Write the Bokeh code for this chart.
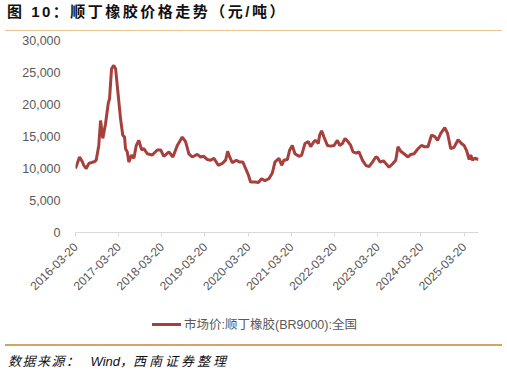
import math
from datetime import datetime
import pandas as pd
from bokeh.plotting import figure
from bokeh.models import (Div, Range1d, FixedTicker, NumeralTickFormatter,
                          DatetimeTickFormatter)
from bokeh.layouts import column
from bokeh.embed import file_html
from bokeh.resources import INLINE

# ---------------- data ----------------
dates = [
    "2016-03-20", "2016-04-23", "2016-05-16", "2016-05-29", "2016-06-19", "2016-07-11",
    "2016-08-30", "2016-09-11", "2016-10-03", "2016-10-18", "2016-11-06", "2016-11-29",
    "2016-12-22", "2017-01-02", "2017-01-19", "2017-02-07", "2017-02-22", "2017-03-16",
    "2017-04-05", "2017-04-24", "2017-05-09", "2017-05-17", "2017-06-01", "2017-06-14",
    "2017-07-07", "2017-07-27", "2017-08-16", "2017-09-07", "2017-09-30", "2017-10-19",
    "2017-11-17", "2017-12-29", "2018-02-10", "2018-03-10", "2018-04-06", "2018-05-19",
    "2018-06-22", "2018-07-29", "2018-09-09", "2018-10-07", "2018-11-04", "2018-12-03",
    "2019-01-14", "2019-02-11", "2019-03-11", "2019-04-09", "2019-05-07", "2019-06-04",
    "2019-07-11", "2019-08-14", "2019-09-11", "2019-09-28", "2019-10-15", "2019-11-06",
    "2019-12-10", "2020-01-07", "2020-02-04", "2020-02-27", "2020-03-21", "2020-04-09",
    "2020-05-16", "2020-06-14", "2020-07-11", "2020-08-08", "2020-09-11", "2020-10-10",
    "2020-11-01", "2020-12-05", "2020-12-28", "2021-01-16", "2021-02-14", "2021-03-06",
    "2021-03-28", "2021-04-19", "2021-05-23", "2021-06-15", "2021-07-13", "2021-08-11",
    "2021-08-30", "2021-09-27", "2021-10-12", "2021-11-03", "2021-11-14", "2021-12-01",
    "2021-12-21", "2022-01-19", "2022-02-16", "2022-03-16", "2022-04-13", "2022-05-03",
    "2022-05-26", "2022-06-17", "2022-07-07", "2022-08-04", "2022-08-23", "2022-09-21",
    "2022-10-13", "2022-11-11", "2022-12-09", "2023-01-06", "2023-02-04", "2023-03-04",
    "2023-03-18", "2023-04-09", "2023-05-08", "2023-05-27", "2023-06-24", "2023-07-23",
    "2023-08-20", "2023-09-08", "2023-10-01", "2023-10-29", "2023-12-02", "2023-12-25",
    "2024-01-22", "2024-02-20", "2024-03-24", "2024-04-21", "2024-05-19", "2024-06-17",
    "2024-07-15", "2024-08-07", "2024-09-04", "2024-10-08", "2024-10-31", "2024-11-27",
    "2024-12-25", "2025-01-28", "2025-02-26", "2025-03-20", "2025-04-12", "2025-05-02",
    "2025-05-16", "2025-05-30", "2025-06-19", "2025-07-20",
]
prices = [
    10000, 11800, 11100, 10500, 10000, 10800,
    11100, 11300, 13600, 17500, 14700, 17000,
    20200, 20900, 25600, 26100, 25600, 21500,
    17800, 15200, 14900, 13100, 12600, 11000,
    12100, 11600, 13600, 14400, 12900, 13100,
    12300, 12100, 12900, 12900, 11900, 12600,
    11800, 13600, 14900, 14200, 12300, 11800,
    12200, 11800, 11900, 11400, 11300, 11600,
    10500, 10800, 11300, 12700, 11800, 10900,
    11300, 11000, 11000, 10000, 9000, 7900,
    7900, 7800, 8400, 8100, 8400, 9300,
    11000, 11600, 10500, 11300, 11400, 12900,
    13600, 12300, 11900, 12100, 13900, 14200,
    13400, 14200, 14400, 13900, 15200, 15900,
    14900, 13600, 13500, 13600, 14400, 13600,
    13900, 14700, 14300, 13600, 12600, 12400,
    12600, 11300, 10500, 10300, 11000, 11800,
    11700, 11000, 11200, 10800, 10200, 10700,
    11300, 13400, 12700, 12300, 11800, 12200,
    12300, 13000, 13600, 13400, 13400, 15200,
    15000, 14400, 15500, 16400, 15500, 13100,
    13300, 14500, 13900, 13600, 12700, 11400,
    12100, 11300, 11600, 11400,
]
x_tick_dates = ["2016-03-20", "2017-03-20", "2018-03-20", "2019-03-20", "2020-03-20",
                "2021-03-20", "2022-03-20", "2023-03-20", "2024-03-20", "2025-03-20"]
y_ticks = [0, 5000, 10000, 15000, 20000, 25000, 30000]
series_name = "市场价:顺丁橡胶(BR9000):全国"
title_text = "图 10：顺丁橡胶价格走势（元/吨）"
source_parts = ["数据来源：", "Wind，", "西南证券整理"]

# ---------------- figure ----------------
x = pd.to_datetime(dates)
FONT = "'Liberation Sans', 'Noto Sans CJK SC'"
CSS_FONT = FONT.replace("'", "&quot;")
GREY = "#595959"
LINE_COLOR = "#A5403D"

p = figure(width=507, height=268, x_axis_type="datetime",
           x_range=Range1d(datetime(2016, 3, 20), datetime(2025, 7, 20)),
           y_range=Range1d(0, 30000),
           output_backend="svg", toolbar_location=None,
           min_border_left=75, min_border_right=29, min_border_top=8, min_border_bottom=68)
p.outline_line_color = None
p.xgrid.visible = False
p.ygrid.visible = False
p.background_fill_color = "white"
p.border_fill_color = "white"

r = p.line(x=x, y=prices, line_color=LINE_COLOR, line_width=3)

# y axis
p.yaxis.ticker = FixedTicker(ticks=y_ticks)
p.yaxis.formatter = NumeralTickFormatter(format="0,0")
p.yaxis.axis_line_color = None
p.yaxis.major_tick_line_color = None
p.yaxis.minor_tick_line_color = None
p.yaxis.major_tick_out = 0
p.yaxis.major_tick_in = 0
p.yaxis.major_label_standoff = 15
p.yaxis.major_label_text_font_size = "12.5px"
p.yaxis.major_label_text_color = GREY
p.yaxis.major_label_text_font = FONT

# x axis
tick_ms = [pd.Timestamp(d).value / 1e6 for d in x_tick_dates]
p.xaxis.ticker = FixedTicker(ticks=tick_ms)
fmt = "%Y-%m-%d"
p.xaxis.formatter = DatetimeTickFormatter(
    microseconds=fmt, milliseconds=fmt, seconds=fmt, minsec=fmt, minutes=fmt,
    hourmin=fmt, hours=fmt, days=fmt, months=fmt, years=fmt)
p.xaxis.axis_line_color = "#D9D9D9"
p.xaxis.major_tick_line_color = "#D9D9D9"
p.xaxis.minor_tick_line_color = None
p.xaxis.major_tick_out = 4
p.xaxis.major_tick_in = 0
p.xaxis.major_label_orientation = math.pi / 4
p.xaxis.major_label_standoff = 8
p.xaxis.major_label_text_font_size = "12px"
p.xaxis.major_label_text_color = GREY
p.xaxis.major_label_text_font = FONT

title_div = Div(
    text=('<div style="width:497px;margin-left:5px;height:31px;box-sizing:border-box;'
          'border-bottom:1.5px solid #E9C58E;">'
          '<div style="padding-left:2px;padding-top:3px;font-family:' + CSS_FONT + ';'
          'font-weight:bold;font-size:15px;line-height:18px;letter-spacing:2.5px;color:#111;white-space:nowrap;">'
          + title_text + '</div></div>'),
    width=507, height=32, margin=0)

legend_div = Div(
    text=('<div style="margin-left:152px;padding-top:17px;line-height:16px;white-space:nowrap;'
          'font-family:' + CSS_FONT + ';font-size:12.5px;color:' + GREY + ';">'
          '<span style="display:inline-block;width:29px;height:3px;background:' + LINE_COLOR + ';'
          'vertical-align:middle;margin-right:3px;position:relative;top:-1px;"></span>'
          + series_name + '</div>'),
    width=507, height=40, margin=0)

source_div = Div(
    text=('<div style="width:497px;margin-left:5px;margin-top:4px;border-top:2px solid #D4A466;">'
          '<div style="padding-left:3px;padding-top:8px;font-family:' + CSS_FONT + ';'
          'font-style:italic;font-size:13px;line-height:16px;color:#111;white-space:nowrap;">'
          '<span style="letter-spacing:1.5px;">' + source_parts[0] + '</span>'
          '<span style="margin-left:10px;">' + source_parts[1] + '</span>'
          '<span style="letter-spacing:3px;">' + source_parts[2] + '</span>'
          '</div></div>'),
    width=507, height=36, margin=0)

layout = column(title_div, p, legend_div, source_div, spacing=0)

with open("out.html", "w") as f:
    f.write(file_html(layout, INLINE))
